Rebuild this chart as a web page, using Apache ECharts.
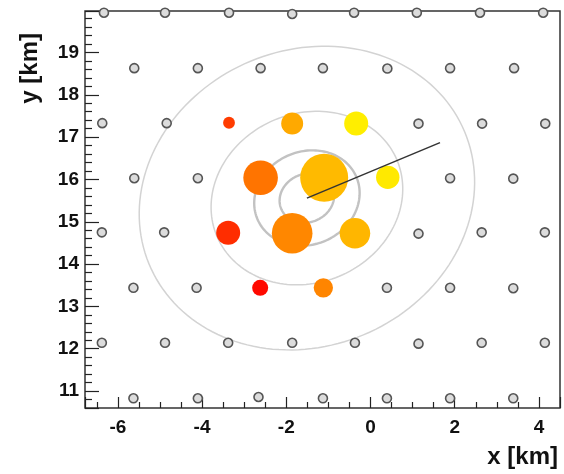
<!DOCTYPE html>
<html>
<head>
<meta charset="utf-8">
<title>Surface detector event</title>
<script src="https://cdn.jsdelivr.net/npm/echarts@6/dist/echarts.min.js"></script>
<style>
  html, body { margin: 0; padding: 0; background: #ffffff; }
  #chart { width: 564px; height: 474px; }
</style>
</head>
<body>
<div id="chart"></div>
<script>
// Idle detector stations of the triangular grid [x km, y km]
const stationX = [
  -6.33, -4.88, -3.36, -1.86, -0.39, 1.10, 2.60, 4.10,
  -5.61, -4.10, -2.61, -1.13, 0.40, 1.89, 3.41,
  -6.37, -4.84, 1.14, 2.65, 4.15,
  -5.61, -4.10, 1.89, 3.39,
  -6.38, -4.90, 1.14, 2.64, 4.14,
  -5.63, -4.13, 0.39, 1.89, 3.39,
  -6.38, -4.88, -3.38, -1.86, -0.37, 1.14, 2.64, 4.14,
  -5.63, -4.10, -2.66, -1.13, 0.39, 1.89, 3.39
];
const stationY = [
  19.94, 19.94, 19.94, 19.91, 19.94, 19.94, 19.94, 19.94,
  18.63, 18.63, 18.63, 18.63, 18.62, 18.63, 18.63,
  17.33, 17.33, 17.32, 17.32, 17.32,
  16.03, 16.03, 16.03, 16.02,
  14.75, 14.75, 14.72, 14.75, 14.75,
  13.44, 13.44, 13.44, 13.44, 13.43,
  12.14, 12.14, 12.14, 12.14, 12.14, 12.12, 12.14, 12.14,
  10.83, 10.83, 10.86, 10.83, 10.83, 10.83, 10.83
];

// Triggered stations: position, signal [VEM] and start time [ns]
const hitX = [-3.36, -1.86, -0.34, -2.61, -1.10, 0.41, -3.38, -1.86, -0.37, -2.62, -1.12];
const hitY = [17.34, 17.32, 17.32, 16.04, 16.04, 16.05, 14.74, 14.73, 14.73, 13.44, 13.44];
const hitSignal = [7, 37, 52, 297, 2680, 47, 52, 795, 153, 14, 24];
const hitTime = [1600, 760, 40, 1200, 600, 100, 1700, 1040, 640, 1940, 1060];

// Reconstructed core and the end of the projected shower axis [km]
const coreX = -1.51, coreY = 15.56;
const axisEndX = 1.65, axisEndY = 16.87;

// Distances from the shower axis drawn as rings [km], and ring elongation
const ringRadius = [0.57, 1.1, 2.0, 3.5];
const ringElongation = 1.16;

const chart = echarts.init(document.getElementById('chart'), null, { renderer: 'canvas' });

const azimuth = Math.atan2(axisEndY - coreY, axisEndX - coreX);

chart.setOption({
  animation: false,
  backgroundColor: '#ffffff',
  grid: {
    left: 85, right: 4, top: 11, bottom: 66,
    show: true, borderColor: '#333333', borderWidth: 1.5,
    backgroundColor: 'transparent'
  },
  xAxis: {
    type: 'value',
    min: -6.78, max: 4.5,
    minInterval: 2, maxInterval: 2,
    axisLine: { show: false, onZero: false },
    axisTick: { show: true, inside: true, length: 11, lineStyle: { color: '#222', width: 1.2 } },
    minorTick: { show: true, splitNumber: 4, length: 6, lineStyle: { color: '#222', width: 1.2 } },
    splitLine: { show: false },
    axisLabel: {
      margin: 10, color: '#111', fontSize: 19, fontWeight: 'bold',
      fontFamily: '"Liberation Sans", Arial, sans-serif',
      showMinLabel: false, showMaxLabel: false
    }
  },
  yAxis: {
    type: 'value',
    min: 10.6, max: 19.98,
    minInterval: 1, maxInterval: 1,
    axisLine: { show: false, onZero: false },
    axisTick: { show: true, inside: true, length: 14, lineStyle: { color: '#222', width: 1.2 } },
    minorTick: { show: true, splitNumber: 5, length: 7, lineStyle: { color: '#222', width: 1.2 } },
    splitLine: { show: false },
    axisLabel: {
      margin: 6, color: '#111', fontSize: 19, fontWeight: 'bold',
      fontFamily: '"Liberation Sans", Arial, sans-serif',
      showMinLabel: false, showMaxLabel: false
    }
  },
  visualMap: {
    type: 'continuous',
    show: false,
    seriesIndex: 2,
    dimension: 3,
    min: 0, max: 2000,
    inRange: { color: ['#fff200', '#ffb400', '#ff6400', '#ff0000'] }
  },
  graphic: [
    {
      type: 'text', x: 558, y: 445, z: 10,
      style: { text: 'x [km]', align: 'right', verticalAlign: 'top',
               font: 'bold 24px "Liberation Sans", Arial, sans-serif', fill: '#111' }
    },
    {
      type: 'text', x: 30, y: 33, rotation: Math.PI / 2, z: 10,
      style: { text: 'y [km]', align: 'right', verticalAlign: 'middle',
               font: 'bold 24px "Liberation Sans", Arial, sans-serif', fill: '#111' }
    }
  ],
  series: [
    {
      // Rings of constant distance to the shower axis, projected on the ground
      type: 'custom',
      coordinateSystem: 'cartesian2d',
      silent: true,
      clip: true,
      data: ringRadius.map(r => [r]),
      renderItem: function (params, api) {
        const r = api.value(0);
        const a = r * ringElongation, b = r;
        const ca = Math.cos(azimuth), sa = Math.sin(azimuth);
        const pts = [];
        const n = 160;
        for (let i = 0; i <= n; i++) {
          const t = 2 * Math.PI * i / n;
          const u = a * Math.cos(t), v = b * Math.sin(t);
          pts.push(api.coord([coreX + u * ca - v * sa, coreY + u * sa + v * ca]));
        }
        const inner = r < 1.5;
        return {
          type: 'polyline',
          shape: { points: pts },
          style: { fill: null, stroke: inner ? '#c2c2c2' : '#d3d3d3', lineWidth: inner ? 2.4 : 1.5 }
        };
      }
    },
    {
      type: 'scatter',
      silent: true,
      symbol: 'circle',
      symbolSize: 9,
      itemStyle: { color: '#dcdcdc', borderColor: '#555555', borderWidth: 1.6, opacity: 1 },
      data: stationX.map((x, i) => [x, stationY[i]])
    },
    {
      type: 'scatter',
      silent: true,
      symbol: 'circle',
      symbolSize: function (val) { return 14 * Math.log10(val[2]); },
      itemStyle: { opacity: 1 },
      data: hitX.map((x, i) => [x, hitY[i], hitSignal[i], hitTime[i]])
    },
    {
      type: 'line',
      silent: true,
      symbol: 'none',
      lineStyle: { color: '#333333', width: 1.5 },
      data: [[coreX, coreY], [axisEndX, axisEndY]]
    }
  ]
});
</script>
</body>
</html>
